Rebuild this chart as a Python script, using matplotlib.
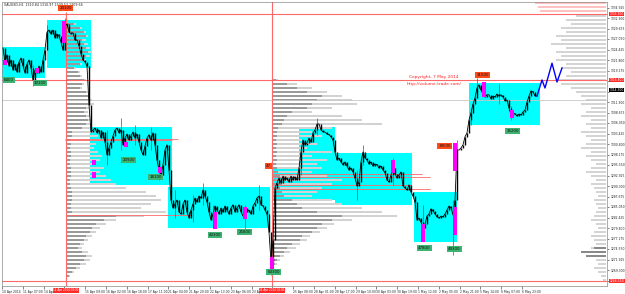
import numpy as np
import matplotlib.pyplot as plt
from matplotlib.patches import Rectangle

# XAUUSD H1, closes (one value per 2-bar slot)
close = [
    1324.8, 1321.3, 1323.1, 1320.3, 1321.8, 1319.3, 1320.8, 1318.8, 1321.3, 1322.3, 1320.3,
    1318.6, 1320.8, 1321.8, 1319.8, 1316.8, 1319.3, 1318.6, 1320.3, 1318.8, 1321.8, 1324.3,
    1328.8, 1329.3, 1328.3, 1329.3, 1327.3, 1328.3, 1327.8, 1326.3, 1324.3, 1330.3, 1330.8,
    1328.8, 1328.3, 1328.6, 1326.8, 1326.8, 1325.3, 1323.3, 1321.8, 1321.3, 1320.3, 1310.6,
    1303.8, 1304.3, 1304.8, 1303.6, 1304.3, 1302.3, 1303.8, 1301.3, 1298.1, 1299.8,
    1301.3, 1302.8, 1304.3, 1304.8, 1303.6, 1304.3, 1300.6, 1302.3, 1303.3, 1301.8,
    1302.8, 1303.8, 1302.3, 1303.3, 1301.3, 1299.3, 1298.1, 1300.3, 1302.3, 1303.1,
    1301.8, 1303.6, 1300.6, 1296.8, 1294.3, 1293.1, 1295.6, 1299.3, 1300.6, 1294.3, 1286.8,
    1284.8, 1285.8, 1286.8, 1283.8, 1283.3, 1285.8, 1286.8, 1283.8, 1282.3, 1284.3,
    1285.8, 1287.3, 1286.3, 1287.8, 1287.3, 1289.3, 1287.8, 1286.3, 1283.8, 1281.8,
    1283.3, 1285.3, 1284.3, 1283.3, 1284.8, 1283.8, 1285.3, 1284.3, 1283.3, 1284.8,
    1285.6, 1283.8, 1284.8, 1285.6, 1283.8, 1282.8, 1284.8, 1283.8, 1284.3, 1283.3,
    1285.3, 1286.1, 1287.3, 1287.8, 1285.6, 1285.3, 1284.3, 1283.3, 1278.8, 1271.3, 1276.8,
    1289.8, 1291.1, 1292.3, 1291.1, 1292.8, 1291.8, 1292.3, 1291.3, 1292.8, 1291.8,
    1292.6, 1291.8, 1294.8, 1298.8, 1301.8, 1300.6, 1301.1, 1302.3, 1301.3, 1303.6,
    1304.3, 1305.8, 1305.8, 1304.3, 1303.8, 1303.8, 1303.3, 1303.1, 1302.6, 1301.8,
    1298.8, 1296.8, 1297.3, 1296.3, 1295.6, 1296.3, 1295.3, 1294.3, 1294.8, 1293.8,
    1292.3, 1290.3, 1291.3, 1296.3, 1298.8, 1297.3, 1296.8, 1295.8, 1296.3, 1295.3,
    1295.8, 1295.6, 1294.8, 1295.3, 1294.3, 1293.6, 1291.8, 1291.3, 1293.1, 1294.8,
    1293.3, 1292.3, 1293.1, 1293.8, 1290.3, 1289.8, 1289.3, 1290.6, 1288.8, 1287.8, 1286.3,
    1281.8, 1282.3, 1281.3, 1279.8, 1280.8, 1282.8, 1283.3, 1284.6, 1284.1, 1283.3,
    1282.6, 1282.3, 1282.8, 1282.6, 1283.3, 1284.3, 1285.3, 1284.8, 1283.1, 1286.8,
    1299.3, 1299.3, 1299.8, 1300.6, 1302.6, 1303.6, 1306.8, 1308.6, 1310.8, 1312.3,
    1314.8, 1315.6, 1314.3, 1313.3, 1312.6, 1313.1, 1313.1, 1312.1, 1312.8, 1312.6,
    1313.3, 1312.8, 1313.1, 1312.6, 1311.6, 1311.8, 1309.8, 1308.1, 1308.6, 1308.3,
    1307.8, 1308.3, 1308.1, 1308.8, 1309.3, 1311.3, 1312.8, 1314.1, 1313.8, 1312.8, 1312.8,
]

# long shadows
wick_x = [15, 22, 31, 52, 59, 66, 74, 78, 86, 95, 100, 105, 121, 128, 134, 149, 157, 177,
          180, 195, 210, 225, 227, 234, 237, 248, 254]
wick_hi = [1320.5, 1330.5, 1332.3, 1304.3, 1307.3, 1305.5, 1305.0, 1296.8, 1289.3, 1288.0,
           1291.0, 1285.5, 1285.5, 1290.5, 1276.8, 1300.5, 1307.3, 1294.3, 1300.5, 1297.3,
           1285.5, 1286.8, 1301.8, 1309.8, 1317.3, 1315.8, 1310.3]
wick_lo = [1315.3, 1326.8, 1325.5, 1295.5, 1299.3, 1300.5, 1299.3, 1291.8, 1282.3, 1281.3,
           1285.5, 1279.8, 1279.3, 1284.3, 1268.0, 1293.0, 1303.0, 1286.8, 1295.5, 1290.5,
           1278.0, 1273.0, 1293.0, 1305.5, 1313.8, 1310.8, 1306.8]

# highlighted (max volume) candles
pink_x = [1, 17, 30.5, 45.5, 45.5, 61.5, 78.5, 106, 121, 134.5, 195, 210, 226, 226, 240.5, 254.5]
pink_top = [1321.8, 1319.8, 1331.6, 1296.8, 1293.8, 1301.3, 1295.1, 1283.8, 1285.1, 1272.6,
            1296.8, 1280.8, 1285.1, 1301.1, 1316.3, 1309.3]
pink_bot = [1320.6, 1318.6, 1326.1, 1295.6, 1292.3, 1300.1, 1293.6, 1279.6, 1282.1, 1269.1,
            1293.6, 1276.3, 1278.1, 1294.1, 1312.6, 1307.3]

# value areas
box_x0 = [-0.5, 22, 43.5, 82.5, 135, 148, 166, 205.5, 233]
box_x1 = [21, 44, 84.5, 133.5, 148, 166, 204.5, 227, 268.5]
box_lo = [1317.3, 1319.8, 1290.6, 1279.8, 1286.8, 1286.8, 1285.6, 1276.3, 1305.6]
box_hi = [1325.1, 1331.8, 1305.1, 1290.1, 1294.8, 1305.1, 1298.6, 1288.8, 1316.1]

# volume profile anchored at 14 Apr
prof1_top = 1330.8
prof1_dark = [8, 14, 18, 20, 16, 18, 20, 22, 20, 18, 14, 8, 12, 14, 18, 16, 14, 20, 22, 22,
              24, 20, 18, 20, 22, 20, 16,
              6, 6, 5, 5, 4, 5, 5, 4, 4, 5, 5, 5, 4, 4, 5, 6, 6, 6, 5, 5, 6,
              50, 38, 30, 26, 24, 20, 18, 14, 12, 16, 20, 18, 14, 10, 6, 3]
prof1_all = [10, 16, 20, 22, 20, 22, 24, 26, 24, 20, 16, 10, 14, 16, 20, 18, 16, 22, 24, 26,
             28, 24, 22, 24, 26, 24, 26,
             28, 32, 36, 30, 28, 32, 36, 34, 30, 38, 34, 40, 45, 50, 60, 80, 90, 95, 85, 75, 100,
             78, 50, 40, 34, 30, 26, 22, 18, 16, 22, 26, 24, 20, 14, 8, 4]
# volume profile anchored at 24 Apr
prof2_top = 1316.8
prof2_dark = [4, 15, 25, 35, 50, 45, 40, 35, 20, 15, 12, 10, 6,
              5, 5, 4, 5, 4, 5, 4, 5, 4, 5, 6, 8, 8, 10, 8, 10, 12,
              20, 25, 30, 45, 70, 60, 50, 45, 40, 30, 28, 20, 15, 12, 8, 5, 3]
prof2_all = [6, 25, 40, 55, 70, 80, 85, 60, 40, 70, 90, 110, 60,
             40, 50, 30, 45, 35, 60, 40, 55, 45, 50, 40, 55, 70, 60, 50, 45, 40,
             60, 70, 90, 110, 125, 80, 62, 55, 48, 38, 35, 28, 24, 18, 12, 8, 5]
# whole-range profile on the right edge
prof3_top = 1332.8
prof3 = [30, 40, 35, 45, 40, 50, 45, 55, 40, 50, 45, 50, 40, 45, 35, 40, 50, 45, 35, 30,
         25, 20, 25, 15, 20, 25, 15, 20, 15, 25, 20, 15, 20, 25, 15, 20, 15, 10, 15, 20,
         15, 10, 15, 12, 10, 8, 12, 10, 8, 10, 12, 15, 10, 8, 12, 15, 12, 10, 15, 25,
         20, 10, 8, 12, 8, 5, 3]
prof3_dark_p = [1274.8, 1273.8, 1272.8]
prof3_dark = [12, 25, 20]

tag_text = ["6400", "10100", "24100", "20900", "18100", "43300", "25800", "63300", "47",
            "39000", "47800", "49300", "31500", "35200"]
tag_x = [3, 18.5, 31.25, 62.75, 76.25, 106, 120.75, 135.25, 132.75, 220.75, 210.75, 225.75,
         239.75, 254.75]
tag_y = [1316.8, 1316.0, 1334.8, 1296.8, 1292.5, 1278.0, 1278.8, 1268.8, 1295.3, 1300.3,
         1274.8, 1274.5, 1318.0, 1304.0]
tag_hot = [0, 0, 1, 0, 0, 0, 0, 0, 1, 1, 0, 0, 1, 0]

proj_x = [267, 269.5, 271, 274.5, 277, 279.5]
proj_y = [1312.8, 1316.8, 1314.8, 1321.0, 1316.3, 1319.8]

price_ticks = [1334.925, 1332.300, 1329.675, 1327.050, 1324.425, 1321.800, 1319.175,
               1316.550, 1313.925, 1311.300, 1308.675, 1306.050, 1303.425, 1300.800,
               1298.175, 1295.550, 1292.925, 1290.300, 1287.675, 1285.050, 1282.425,
               1279.800, 1277.175, 1274.550, 1271.925, 1269.300, 1266.675]
# ticks hidden under the level boxes on the price scale
price_hidden = [1316.550, 1313.925, 1266.675]
# slots 3 and 13 sit under the crosshair date boxes
time_labels = ["10 Apr 2014", "11 Apr 07:00", "14 Apr 01:00", "", "15 Apr 09:00",
               "16 Apr 02:00", "16 Apr 18:00", "17 Apr 11:00", "21 Apr 04:00", "21 Apr 20:00",
               "22 Apr 13:00", "23 Apr 06:00", "23 Apr 22:00", "", "25 Apr 08:00",
               "28 Apr 01:00", "28 Apr 17:00", "29 Apr 10:00", "30 Apr 03:00", "30 Apr 19:00",
               "1 May 12:00", "2 May 05:00", "2 May 21:00", "5 May 14:00", "6 May 07:00",
               "6 May 23:00"]

red_levels = [1333.3, 1316.8, 1266.55]
naked_y = [1302.1, 1301.7, 1283.05, 1293.3, 1292.55, 1290.55, 1289.55]
naked_x0 = [31, 31, 31.5, 135, 135, 135, 135]
naked_x1 = [87.5, 84.5, 94, 209.5, 213.5, 204, 213.5]

RED = '#ff6868'
fig = plt.figure(figsize=(6.25, 2.94), dpi=100)
ax = fig.add_axes([2 / 625, 8 / 294, 605 / 625, 284 / 294])
ax.set_xlim(-0.5, 302)
ax.set_ylim(1265.3, 1336.3)

for x0, x1, lo, hi in zip(box_x0, box_x1, box_lo, box_hi):
    ax.add_patch(Rectangle((x0, lo), x1 - x0, hi - lo, color='#00ffff', lw=0, zorder=1))

sc = 0.5  # profile length -> x units
lv1 = prof1_top - np.arange(len(prof1_all))
ax.barh(lv1, np.array(prof1_all) * sc, left=31.5, height=0.5, color='#d2d2d2', zorder=2)
ax.barh(lv1, np.array(prof1_dark) * sc, left=31.5, height=0.5, color='#9a9a9a', zorder=2)
lv2 = prof2_top - np.arange(len(prof2_all))
ax.barh(lv2, np.array(prof2_all) * sc, left=134.5, height=0.5, color='#d2d2d2', zorder=2)
ax.barh(lv2, np.array(prof2_dark) * sc, left=134.5, height=0.5, color='#9a9a9a', zorder=2)
lv3 = prof3_top - np.arange(len(prof3))
w3 = np.array(prof3) * sc
ax.barh(lv3, w3, left=301.5 - w3, height=0.5, color='#d4d4d4', zorder=2)
wd = np.array(prof3_dark) * sc
ax.barh(prof3_dark_p, wd, left=301.5 - wd, height=0.5, color='#8a8a8a', zorder=2)
ax.hlines([1336.0, 1335.0, 1334.0], [266, 267.5, 268.5], 301.5, color='#ffb4b4', lw=1.2, zorder=2)

for lv in red_levels:
    ax.axhline(lv, color=RED, lw=0.8, zorder=2.5)
ax.axhline(1311.8, color='#c8c8c8', lw=0.6, zorder=2.5)
ax.hlines(naked_y, naked_x0, naked_x1, color=RED, lw=0.6, zorder=2.5)
ax.vlines(31.5, 1265.3, 1333.8, color=RED, lw=0.8, zorder=2.5)
ax.axvline(134.5, color=RED, lw=0.8, zorder=2.5)

c = np.array(close)
x = np.arange(len(c))
o = np.r_[c[0], c[:-1]]
ax.vlines(wick_x, wick_lo, wick_hi, color='#555555', lw=0.5, zorder=3)
ax.plot(x, c, color='black', lw=0.6, zorder=3)
ax.vlines(x, np.minimum(o, c), np.maximum(o, c), color='black', lw=1.0, zorder=3)
ax.bar(pink_x, np.array(pink_top) - np.array(pink_bot), bottom=pink_bot, width=1.6,
       color='#ff00ff', zorder=4)
ax.plot(proj_x, proj_y, color='#0000ff', lw=1.0, zorder=4)

for t, tx, ty, hot in zip(tag_text, tag_x, tag_y, tag_hot):
    ax.text(tx, ty, t, ha='center', va='center', fontsize=2.9, color='#111111', zorder=5,
            bbox=dict(boxstyle='square,pad=0.25', fc='#ff4a1a' if hot else '#3cb371', ec='none'))

ax.text(215.5, 1317.6, "Copyright, 7 May 2014", color='#ff2020', fontsize=3.2,
        ha='center', va='center', zorder=5)
ax.text(215.5, 1315.8, "http://volume-trade.com/", color='#ff2020', fontsize=3.2,
        ha='center', va='center', zorder=5)
ax.text(0.004, 0.997, "XAUUSD,H1  1310.84 1310.97 1309.53 1309.66", transform=ax.transAxes,
        fontsize=2.3, va='top', ha='left', color='#222222')

ax.yaxis.tick_right()
ax.set_yticks(price_ticks, ["" if v in price_hidden else f"{v:.3f}" for v in price_ticks])
ax.tick_params(axis='y', labelsize=2.2, length=1.5, width=0.4, pad=0.8, colors='#222222')
ax.set_xticks(np.arange(len(time_labels)) * 10.4 - 0.5, time_labels, ha='left')
ax.tick_params(axis='x', labelsize=2.2, length=2, width=0.4, pad=0.8, colors='#222222')
for s in ax.spines.values():
    s.set_color('#8a8a8a')
    s.set_linewidth(0.5)

ytr = ax.get_yaxis_transform()
for lv, fc in [(1333.3, '#ff2a2a'), (1316.8, '#ff2a2a'), (1314.3, 'black'), (1266.55, '#ff2a2a')]:
    ax.text(1.004, lv, f"{lv:.3f}", transform=ytr, fontsize=2.2, color='white', va='center',
            ha='left', bbox=dict(boxstyle='square,pad=0.15', fc=fc, ec='none'), clip_on=False,
            zorder=6)
xtr = ax.get_xaxis_transform()
for xv, lab in [(31.5, "14 Apr 2014 03:00"), (134.5, "24 Apr 2014 02:00")]:
    ax.text(xv, -0.008, lab, transform=xtr, fontsize=2.0, color='white', va='top', ha='center',
            bbox=dict(boxstyle='square,pad=0.2', fc='#ff2a2a', ec='none'), clip_on=False,
            zorder=6)

fig.savefig('out.png', dpi=100, facecolor='white')
